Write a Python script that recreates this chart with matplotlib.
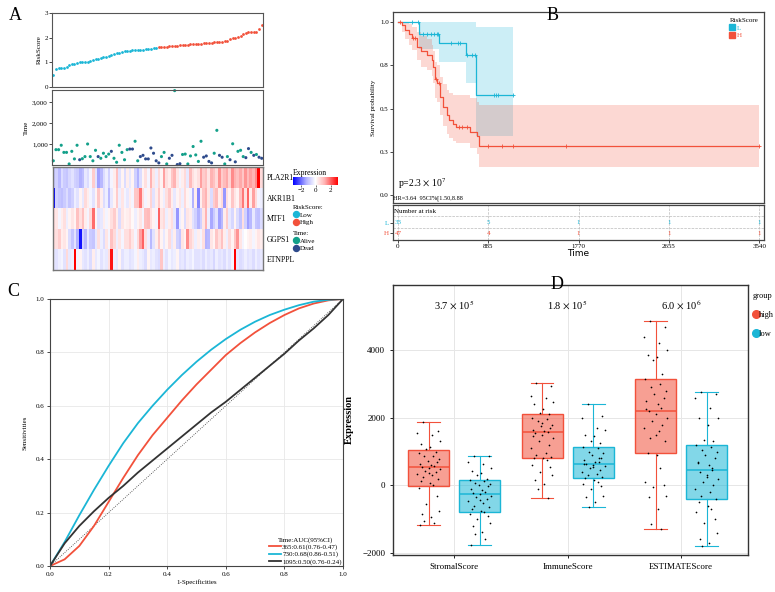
import numpy as np
import matplotlib
matplotlib.use('Agg')
import matplotlib.pyplot as plt
from matplotlib.colors import LinearSegmentedColormap, TwoSlopeNorm, to_rgba
from matplotlib.lines import Line2D

plt.rcParams['font.family'] = ['Liberation Serif', 'DejaVu Serif']
plt.rcParams['mathtext.fontset'] = 'stix'

LOW_C = '#1bb6d6'
HIGH_C = '#f2513b'
ALIVE_C = '#13a08a'
DEAD_C = '#2e4b8c'
SPINE_C = '#555555'

# ---------------- panel A data ----------------
risk_low = [0.50, 0.75, 0.76, 0.77, 0.78, 0.82, 0.88, 0.92, 0.95, 0.98,
            1.00, 1.01, 1.02, 1.03, 1.05, 1.10, 1.13, 1.15, 1.18, 1.20,
            1.23, 1.26, 1.30, 1.33, 1.36, 1.38, 1.41, 1.45, 1.46, 1.47,
            1.48, 1.49, 1.50, 1.51, 1.52, 1.53, 1.54, 1.56, 1.58, 1.60]
risk_high = [1.61, 1.62, 1.63, 1.64, 1.65, 1.66, 1.67, 1.68, 1.69, 1.70,
             1.71, 1.72, 1.73, 1.74, 1.75, 1.76, 1.76, 1.77, 1.78, 1.79,
             1.80, 1.81, 1.82, 1.83, 1.84, 1.85, 1.86, 1.95, 1.97, 2.00,
             2.03, 2.08, 2.15, 2.20, 2.22, 2.23, 2.24, 2.25, 2.35, 2.50]
surv_time = [200, 730, 730, 940, 600, 600, 50, 650, 290, 940,
             250, 300, 400, 1000, 400, 200, 700, 400, 320, 560,
             400, 520, 650, 320, 130, 940, 600, 250, 730, 760,
             760, 1130, 200, 400, 460, 290, 290, 810, 560, 200,
             100, 400, 600, 50, 320, 460, 3540, 20, 60, 500,
             520, 50, 430, 880, 480, 170, 1130, 370, 430, 170,
             100, 560, 1650, 460, 370, 50, 400, 250, 1010, 150,
             650, 700, 400, 350, 780, 600, 460, 500, 370, 320]
dead = [0, 0, 0, 0, 0, 0, 0, 0, 0, 0,
        1, 0, 0, 0, 0, 0, 0, 1, 0, 0,
        0, 0, 1, 0, 0, 0, 0, 0, 0, 1,
        1, 0, 0, 1, 1, 1, 1, 1, 1, 1,
        1, 0, 0, 0, 1, 1, 0, 1, 1, 0,
        0, 0, 0, 0, 0, 0, 0, 1, 1, 1,
        1, 0, 0, 1, 1, 0, 0, 1, 0, 1,
        0, 0, 0, 1, 1, 0, 1, 0, 1, 1]

genes = ['PLA2R1', 'AKR1B1', 'MTF1', 'GGPS1', 'ETNPPL']
expr_pla2r1 = [-1.0, -0.8, -1.2, -0.6, -0.9, -1.0, -0.7, -0.5, -0.8, -0.9, -1.3, -1.1, -0.4, -0.6, -0.2, 0.8,
               -0.5, -1.5, -1.2, -0.6, -0.3, -0.8, -0.2, 0.3, 1.0, -0.5, 0.2, -0.6,
               0.3, -0.4, 0.2, -0.8, -1.3, -0.6, 0.2, 0.5, -0.2, 1.2, 0.4, -0.3, 0.6, 0.2, 1.4, 0.5,
               0.3, 0.9, 1.2, 0.4, -0.2, 0.3, 0.6, -0.4, 1.1, 0.5, 0.3,
               0.5, 1.4, 0.8, 1.0, 0.4, 1.2, 1.0, 0.6, 1.5, 0.8, 1.1, 1.3, 0.7, 1.6, 1.2, 1.0,
               1.3, 0.9, 1.5, 1.1, 1.4, 1.2, 1.6, 3.0, 0.6]
expr_akr1b1 = [-3.2, -0.8, -1.0, -1.1, -0.9, -0.6, -1.0, -0.8, -0.3, -0.5, 0.2, -0.4, 0.6, 0.3,
               -0.2, -0.5, 0.2, 0.9, 0.3, -0.6, -0.3, -1.2, -0.4, 0.2, 0.8, -0.3, 0.4, -0.2,
               -0.4, 0.3, -0.2, 0.9, 1.0, 1.8, 0.5, -0.2, 0.2, 0.7, -0.5, 0.3, 0.8, 0.2, -0.3, 0.5,
               0.9, 0.3, -0.4, 0.2, 0.4, -0.3, 0.6, 0.2, -0.2, -1.3, 0.3,
               -1.8, 0.3, 0.9, 1.2, 0.4, -0.6, 0.8, 1.1, 0.3, 0.6, -1.6, 0.5, 0.2, 0.9, 0.4, 0.2,
               1.0, 1.8, 0.5, 2.0, 0.3, 1.4, 0.6, -0.2, -0.3]
expr_mtf1 = [0.6, 0.4, -0.2, 0.3, 0.5, -0.3, 0.2, 0.4, 0.2, 1.0, 0.5, 1.0, 0.3, -0.2, 0.6, 1.9,
             0.2, -0.5, -0.4, 0.3, -0.2, 0.2, 0.5, 0.8, 0.3, -0.6, 0.4, 0.2,
             0.3, 0.4, 0.1, -0.3, 0.2, 0.4, -0.2, 1.0, 1.1, 0.5, 0.2, -0.2, 2.0, 0.4, 0.6, -0.3,
             0.3, 0.5, -0.4, -1.6, -0.3, 0.2, -0.6, 0.4, 0.3, -0.5, -0.8,
             -1.3, -0.8, 0.4, 1.2, -0.3, -1.4, -0.9, -0.5, -1.5, -1.2, 0.3, 0.8, -0.4, -0.7, 0.2,
             -0.6, -1.0, 0.5, -0.8, -1.5, -1.2, -0.4, -1.0, -1.1, -0.6]
expr_ggps1 = [0.6, 0.5, 0.8, 0.3, 0.4, 0.2, -0.6, -1.0, -0.5, -1.3, -3.0, -0.8, -1.2, -0.4, -0.9,
              -1.0, -0.4, 0.5, -0.3, -0.6, 0.4, -0.2, 1.0, 0.6, -0.3, 0.4, -0.2, 0.5,
              0.5, 0.8, 0.4, -0.2, 0.6, 1.4, 2.0, 0.5, -0.3, -1.2, -0.5, 0.3, 0.9, 0.2, -0.4, 0.2,
              0.6, -0.4, 0.3, -0.8, -1.0, 0.4, 0.2, 1.6, 0.7, 0.4, -0.3,
              0.3, -0.2, 0.5, -1.3, -1.2, 0.4, 0.2, 0.9, 0.5, 1.0, 0.3, -0.3, 0.6, 0.2, 0.9, 1.5,
              0.4, -0.2, 0.0, 0.2, 0.3, -0.2, 0.2, 0.4, 0.3]
expr_etnppl = [-0.4, -0.5, -0.3, -0.2, -0.5, 0.6, -0.4, -0.3, 3.0, -0.2, 0.2, -0.4, -0.5, -0.3,
               -0.6, 0.3, -0.4, -0.2, -0.5, -0.3, -0.4, 0.5, 2.8, -0.3, -0.4, 0.2, -0.5, -0.3,
               -0.3, -0.5, -0.4, -0.2, 0.3, -0.3, -0.4, -0.6, 0.2, -0.4, -0.3, -0.5, -0.6, 0.9,
               -0.3, -0.5, -0.2, -0.4, -0.3, 0.2, -0.5, -0.4, -0.6, -0.3, -0.4, -0.2, -0.5,
               -0.5, -0.4, -0.6, -0.3, -0.5, -0.4, -0.7, -0.3, -0.5, -0.4, -0.6, -0.3, -0.5, -0.2,
               3.0, -0.4, -0.6, -0.5, -0.3, -0.5, -0.4, -0.6, -0.3, -0.5, -0.4]

# ---------------- panel B data ----------------
km_low_t = [0, 206, 402, 666, 765]
km_low_s = [1.0, 0.932, 0.88, 0.81, 0.576]
km_low_lo = [1.0, 0.842, 0.767, 0.646, 0.341]
km_low_hi = [1.0, 1.0, 1.0, 1.0, 0.969]
km_low_end = 1127
km_low_cens = [137, 196, 245, 284, 323, 353, 382, 392, 519, 588, 608,
               676, 725, 755, 941, 960, 980, 1127]

km_high_t = [0, 40, 69, 110, 134, 189, 230, 281, 330, 340, 363,
             380, 412, 440, 477, 500, 540, 568, 706, 771, 794]
km_high_s = [1.0, 0.98, 0.954, 0.93, 0.907, 0.857, 0.83, 0.809, 0.78, 0.742, 0.67,
             0.645, 0.568, 0.51, 0.462, 0.434, 0.41, 0.395, 0.366, 0.341, 0.283]
km_high_hi = [1.0, 1.0, 1.0, 0.99, 0.97, 0.94, 0.92, 0.90, 0.87, 0.83, 0.77,
              0.75, 0.68, 0.64, 0.61, 0.59, 0.58, 0.58, 0.56, 0.54, 0.52]
km_high_lo = [1.0, 0.94, 0.90, 0.87, 0.84, 0.78, 0.74, 0.72, 0.69, 0.65, 0.56,
              0.54, 0.46, 0.40, 0.35, 0.33, 0.31, 0.30, 0.27, 0.24, 0.16]
km_high_end = 3540
km_high_cens = [20, 150, 167, 372, 405, 598, 624, 679, 885, 1016, 1130, 1646, 3540]

risk_ticks = [0, 885, 1770, 2655, 3540]
at_risk_low = [33, 5, 1, 1, 1]
at_risk_high = [47, 4, 1, 1, 1]

# ---------------- panel C data ----------------
fpr = [0, 0.05, 0.1, 0.15, 0.2, 0.25, 0.3, 0.35, 0.4, 0.45, 0.5,
       0.55, 0.6, 0.65, 0.7, 0.75, 0.8, 0.85, 0.9, 0.95, 1.0]
tpr_365 = [0, 0.025, 0.075, 0.15, 0.24, 0.33, 0.415, 0.49, 0.555, 0.62, 0.68,
           0.735, 0.79, 0.835, 0.875, 0.91, 0.94, 0.965, 0.983, 0.995, 1.0]
tpr_730 = [0, 0.09, 0.19, 0.285, 0.375, 0.46, 0.535, 0.60, 0.66, 0.715, 0.765,
           0.81, 0.85, 0.885, 0.915, 0.94, 0.96, 0.977, 0.99, 0.997, 1.0]
tpr_1095 = [0, 0.085, 0.15, 0.205, 0.255, 0.30, 0.35, 0.395, 0.44, 0.485, 0.53,
            0.575, 0.615, 0.66, 0.705, 0.75, 0.795, 0.845, 0.89, 0.94, 1.0]
roc_labels = ['365:0.61(0.76-0.47)', '730:0.68(0.86-0.51)', '1095:0.50(0.76-0.24)']

# ---------------- panel D data ----------------
score_names = ['StromalScore', 'ImmuneScore', 'ESTIMATEScore']
p_labels = [r'3.7 $\times$ 10$^{5}$', r'1.8 $\times$ 10$^{5}$', r'6.0 $\times$ 10$^{6}$']
# (whislo, q1, med, q3, whishi)
box_high = [(-1168, -20, 545, 1059, 1881), (-386, 812, 1594, 2099, 3030), (-1287, 960, 2198, 3139, 4861)]
box_low = [(-1752, -782, -257, 158, 881), (-644, 208, 644, 1149, 2406), (-1782, -406, 446, 1208, 2772)]
stromal_high = [1881, 1620, 1560, 1480, 1310, 1230, 1150, 1080, 1000, 960, 880, 860, 790, 720,
                690, 640, 600, 560, 545, 520, 480, 430, 400, 350, 300, 260, 200, 130, 60, 0,
                -80, -300, -560, -760, -860, -950, -1040, -1100, -1168, 380]
stromal_low = [881, 860, 700, 620, 520, 430, 380, 300, 200, 150, 120, 80, 50, 20, -30, -100,
               -150, -200, -240, -257, -300, -350, -400, -450, -520, -600, -650, -700, -760,
               -800, -850, -900, -1000, -1100, -1200, -1380, -1450, -1600, -1752, -420]
immune_high = [3030, 2950, 2650, 2600, 2480, 2400, 2250, 2150, 2100, 2000, 1950, 1900, 1800,
               1750, 1700, 1650, 1600, 1594, 1550, 1500, 1400, 1300, 1200, 1100, 950, 900, 850,
               820, 800, 750, 600, 550, 400, 300, 150, 40, -120, -386, 1450, 1850]
immune_low = [2406, 2050, 2000, 1700, 1650, 1500, 1450, 1300, 1250, 1149, 1100, 1000, 950, 900,
              800, 750, 700, 680, 644, 600, 560, 500, 450, 400, 350, 300, 250, 208, 150, 100,
              50, -20, -100, -300, -350, -500, -644, 820, 620, 540]
estimate_high = [4861, 4700, 4400, 4200, 4000, 3850, 3800, 3700, 3300, 3139, 3000, 2900, 2800,
                 2700, 2600, 2500, 2400, 2300, 2198, 2100, 2000, 1900, 1800, 1700, 1600, 1400,
                 1300, 960, 900, 500, 100, 0, -50, -300, -350, -700, -1150, -1287, 2250, 1500]
estimate_low = [2772, 2700, 2600, 2300, 2000, 2000, 1800, 1350, 1300, 1208, 1150, 1050, 1000,
                900, 800, 700, 600, 446, 400, 300, 200, 100, 0, -100, -200, -300, -406, -500,
                -600, -700, -800, -1000, -1100, -1400, -1600, -1700, -1782, 500, 650, 250]
jitter = [-0.05, 0.08, -0.10, 0.03, 0.10, -0.07, 0.01, -0.02, 0.06, -0.09, 0.04, -0.04, 0.09,
          -0.01, 0.07, -0.08, 0.02, 0.05, -0.06, 0.00, 0.10, -0.03, 0.06, -0.10, 0.03, -0.05,
          0.08, -0.07, 0.01, 0.04, -0.09, 0.07, -0.02, 0.09, -0.06, 0.02, -0.04, 0.05, -0.08, 0.00]

W, H = 775, 592
fig = plt.figure(figsize=(W / 100, H / 100), dpi=100)


def px_axes(l, t, r, b):
    return fig.add_axes([l / W, 1 - b / H, (r - l) / W, (b - t) / H])


def style_spines(ax, color=SPINE_C, lw=0.8):
    for s in ax.spines.values():
        s.set_color(color)
        s.set_linewidth(lw)


def ftext(x, y, s, **kw):
    fig.text(x / W, 1 - y / H, s, **kw)


# ================= Panel A =================
n_pts = len(risk_low) + len(risk_high)
idx = np.arange(1, n_pts + 1)

ax = px_axes(52, 13, 263, 87)
ax.scatter(idx[:len(risk_low)], risk_low, s=4, color=LOW_C, lw=0)
ax.scatter(idx[len(risk_low):], risk_high, s=4, color=HIGH_C, lw=0)
ax.set_xlim(0.5, n_pts + 0.5)
ax.set_ylim(0, 3)
ax.set_xticks([])
ax.set_yticks([0, 1, 2, 3])
ax.tick_params(labelsize=5, length=2, width=0.5, pad=1)
ax.set_ylabel('RiskScore', fontsize=5, labelpad=2)
style_spines(ax)

ax = px_axes(52, 90, 263, 165)
cols = [DEAD_C if d else ALIVE_C for d in dead]
ax.scatter(idx, surv_time, s=5, c=cols, lw=0, clip_on=False)
ax.set_xlim(0.5, n_pts + 0.5)
ax.set_ylim(0, 3570)
ax.set_xticks([])
ax.set_yticks([1000, 2000, 3000])
ax.set_yticklabels(['1,000', '2,000', '3,000'])
ax.tick_params(labelsize=5, length=2, width=0.5, pad=1)
ax.set_ylabel('Time', fontsize=5, labelpad=2)
style_spines(ax)

ax = px_axes(52.7, 167, 262.5, 269.5)
cmap = LinearSegmentedColormap.from_list(
    'bwr2', [(0, '#0000ff'), (0.3, '#b4b4ff'), (0.5, '#ffffff'), (0.7, '#ffb4b4'), (1, '#ff0000')])
norm = TwoSlopeNorm(vmin=-3.2, vcenter=0, vmax=3.0)
expr = np.array([expr_pla2r1, expr_akr1b1, expr_mtf1, expr_ggps1, expr_etnppl])
im = ax.pcolormesh(expr, cmap=cmap, norm=norm)
ax.set_ylim(len(genes), 0)
ax.set_xticks([])
ax.yaxis.tick_right()
ax.set_yticks(np.arange(len(genes)) + 0.5)
ax.set_yticklabels(genes)
ax.tick_params(labelsize=5.5, length=0, pad=3)
style_spines(ax, '#777777', 1.0)

cax = px_axes(293, 177, 338, 185)
cb = fig.colorbar(im, cax=cax, orientation='horizontal')
cb.set_ticks([-2, 0, 2])
cb.ax.tick_params(labelsize=5, length=1.5, width=0.4, pad=1)
cb.outline.set_visible(False)
ftext(293, 173, 'Expression', fontsize=5.5, va='center')

leg_kw = dict(frameon=False, fontsize=5, title_fontsize=5, alignment='left',
              handletextpad=0.1, labelspacing=0.2, borderpad=0, handlelength=1.0,
              loc='upper left')
h_risk = [Line2D([], [], marker='o', ls='', color=c, markersize=4.3) for c in (LOW_C, HIGH_C)]
fig.legend(h_risk, ['Low', 'High'], title='RiskScore:',
           bbox_to_anchor=(289 / W, 1 - 202 / H), **leg_kw)
h_time = [Line2D([], [], marker='o', ls='', color=c, markersize=4.3) for c in (ALIVE_C, DEAD_C)]
fig.legend(h_time, ['Alive', 'Dead'], title='Time:',
           bbox_to_anchor=(289 / W, 1 - 228 / H), **leg_kw)

# ================= Panel B =================
ax = px_axes(393, 12, 764, 203)
for t, s, lo, hi, end, cens, c in [
        (km_low_t, km_low_s, km_low_lo, km_low_hi, km_low_end, km_low_cens, LOW_C),
        (km_high_t, km_high_s, km_high_lo, km_high_hi, km_high_end, km_high_cens, HIGH_C)]:
    tt = t + [end]
    ax.fill_between(tt, lo + [lo[-1]], hi + [hi[-1]], step='post', color=c, alpha=0.22, lw=0)
    ax.step(tt, s + [s[-1]], where='post', color=c, lw=0.9)
    cs = [s[np.searchsorted(t, ct, side='right') - 1] for ct in cens]
    ax.plot(cens, cs, '+', color=c, markersize=3.5, mew=0.6)
ax.set_xlim(-49, 3587)
ax.set_ylim(-0.046, 1.058)
ax.set_xticks([])
ax.set_yticks([0, 0.25, 0.5, 0.75, 1.0])
ax.set_yticklabels(['0.0', '0.3', '0.5', '0.8', '1.0'])
ax.tick_params(labelsize=5, length=2, width=0.5, pad=1)
ax.set_ylabel('Survival probability', fontsize=5, labelpad=3)
style_spines(ax, '#444444', 0.9)
ax.text(0.013, 0.085, r'p=2.3 $\times$ 10$^{7}$', transform=ax.transAxes, fontsize=7)
ax.text(0.0, 0.02, 'HR=3.64  95CI%[1.50,8.88', transform=ax.transAxes, fontsize=4.5)
h_km = [Line2D([], [], marker='s', ls='', color=c, markersize=4) for c in (LOW_C, HIGH_C)]
lg = ax.legend(h_km, ['L', 'H'], title='RiskScore', loc='upper right', frameon=False,
               fontsize=5, title_fontsize=5, alignment='left', handletextpad=0.2,
               handlelength=0.8, labelspacing=0.3, borderaxespad=0.4)
for txt, c in zip(lg.get_texts(), (LOW_C, HIGH_C)):
    txt.set_color(c)

ax = px_axes(393, 205, 764, 240)
ax.set_xlim(-49, 3587)
ax.set_ylim(0, 3)
ax.set_xticks(risk_ticks)
ax.set_xticklabels([str(v) for v in risk_ticks])
ax.set_yticks([1.5, 0.6])
ax.set_yticklabels(['L', 'H'])
for lab, c in zip(ax.get_yticklabels(), (LOW_C, HIGH_C)):
    lab.set_color(c)
ax.tick_params(labelsize=5, length=2, width=0.5, pad=1)
ax.grid(axis='x', ls='--', color='#bbbbbb', lw=0.5)
ax.axhline(2.05, ls='--', color='#bbbbbb', lw=0.5)
ax.axhline(1.03, ls='--', color='#bbbbbb', lw=0.5)
ax.text(-40, 2.45, 'Number at risk', fontsize=5, va='center')
for t, a, b in zip(risk_ticks, at_risk_low, at_risk_high):
    ax.text(t, 1.5, str(a), color=LOW_C, fontsize=5, ha='center', va='center')
    ax.text(t, 0.6, str(b), color=HIGH_C, fontsize=5, ha='center', va='center')
ax.set_xlabel('Time', fontsize=6.5, family='DejaVu Sans', labelpad=0)
style_spines(ax, '#444444', 0.9)

# ================= Panel C =================
ax = px_axes(50, 299, 343, 566)
ax.plot([0, 1], [0, 1], ls=':', color='#333333', lw=0.6)
l1, = ax.plot(fpr, tpr_365, color=HIGH_C, lw=1.3)
l2, = ax.plot(fpr, tpr_730, color=LOW_C, lw=1.3)
l3, = ax.plot(fpr, tpr_1095, color='#333333', lw=1.3)
ax.set_xlim(0, 1)
ax.set_ylim(0, 1)
ticks = [0, 0.2, 0.4, 0.6, 0.8, 1.0]
ax.set_xticks(ticks)
ax.set_yticks(ticks)
ax.set_xticklabels(['%.1f' % v for v in ticks])
ax.set_yticklabels(['%.1f' % v for v in ticks])
ax.tick_params(labelsize=5, length=2, width=0.5, pad=2)
ax.grid(color='#e8e8e8', lw=0.6)
ax.set_axisbelow(True)
ax.set_xlabel('1-Specificities', fontsize=5, labelpad=2)
ax.set_ylabel('Sensitivities', fontsize=5, labelpad=6)
style_spines(ax, '#444444', 0.8)
ax.legend([l1, l2, l3], roc_labels, title='Time:AUC(95%CI)', loc='lower right',
          frameon=False, fontsize=5, title_fontsize=5, handlelength=1.8,
          handletextpad=0.1, labelspacing=0.15, borderaxespad=0.1, borderpad=0.1)

# ================= Panel D =================
ax = px_axes(393, 285, 748, 555)
cats = np.arange(1, len(score_names) + 1)
off = 0.225
point_sets = [(stromal_high, stromal_low), (immune_high, immune_low), (estimate_high, estimate_low)]
for boxes, shift, c in [(box_high, -off, HIGH_C), (box_low, off, LOW_C)]:
    stats = [dict(whislo=b[0], q1=b[1], med=b[2], q3=b[3], whishi=b[4], fliers=[]) for b in boxes]
    ax.bxp(stats, positions=cats + shift, widths=0.36, capwidths=0.2, patch_artist=True,
           showfliers=False, manage_ticks=False,
           boxprops=dict(facecolor=to_rgba(c, 0.55), edgecolor=c, lw=1.0),
           medianprops=dict(color=c, lw=1.1),
           whiskerprops=dict(color=c, lw=0.8),
           capprops=dict(color=c, lw=0.8))
for i, (hv, lv) in enumerate(point_sets):
    for vals, shift in [(hv, -off), (lv, off)]:
        xs = [cats[i] + shift + jitter[k % len(jitter)] for k in range(len(vals))]
        ax.scatter(xs, vals, s=1.5, color='black', lw=0, zorder=5)
for i, p in enumerate(p_labels):
    ax.text(cats[i], 5330, p, ha='center', va='center', fontsize=7.5)
ax.set_xlim(0.46, 3.59)
ax.set_ylim(-2060, 5930)
ax.set_xticks(cats)
ax.set_xticklabels(score_names)
ax.set_yticks([-2000, 0, 2000, 4000])
ax.tick_params(labelsize=6.5, length=2.5, width=0.6, pad=3)
ax.grid(color='#e6e6e6', lw=0.7)
ax.set_axisbelow(True)
ax.set_ylabel('Expression', fontsize=7.5, fontweight='bold', labelpad=6)
style_spines(ax, '#333333', 1.0)
h_grp = [Line2D([], [], marker='o', ls='', color=c, markersize=5.5) for c in (HIGH_C, LOW_C)]
fig.legend(h_grp, ['high', 'low'], title='group', loc='upper left',
           bbox_to_anchor=(748 / W, 1 - 288 / H), frameon=False, fontsize=6,
           title_fontsize=6, alignment='left', handletextpad=-0.2, handlelength=1.0,
           labelspacing=1.3, borderpad=0)

# ---------------- panel letters ----------------
for lab, x, y in [('A', 9, 15), ('B', 547, 15), ('C', 7, 292), ('D', 551, 285)]:
    ftext(x, y, lab, fontsize=13, va='center')

fig.savefig('out.png', dpi=100)
